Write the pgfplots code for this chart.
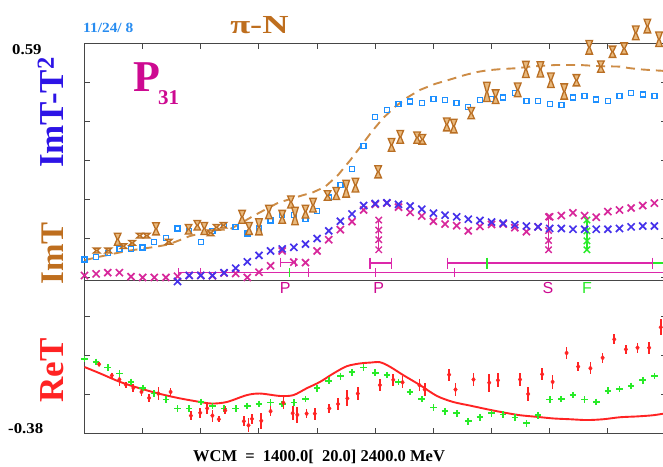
\documentclass[border=0pt]{standalone}
\usepackage{fontspec}
\setmainfont{Liberation Serif}
\setsansfont{Liberation Sans}
\usepackage{pgfplots}
\usepackage{pgfplotstable}
\pgfplotsset{compat=1.18}

\definecolor{sqblue}{RGB}{30,144,255}
\definecolor{xblue}{RGB}{70,50,235}
\definecolor{xmag}{RGB}{215,40,155}
\definecolor{barmag}{RGB}{220,40,170}
\definecolor{lgreen}{RGB}{40,235,40}
\definecolor{rered}{RGB}{255,35,35}
\definecolor{hgbrown}{RGB}{185,110,35}
\definecolor{hgfill}{RGB}{232,185,125}
\definecolor{dashbrown}{RGB}{205,140,70}
\definecolor{lblbrown}{RGB}{190,110,30}
\definecolor{lblblue}{RGB}{45,20,230}
\definecolor{datecol}{RGB}{40,140,240}
\definecolor{pmag}{RGB}{205,10,145}
\definecolor{framecol}{RGB}{70,70,70}

% hourglass marker: half-height = mark size, fixed half-width
\pgfdeclareplotmark{hourglass}{%
  \pgfpathmoveto{\pgfqpoint{-3.3pt}{\pgfplotmarksize}}%
  \pgfpathlineto{\pgfqpoint{3.3pt}{\pgfplotmarksize}}%
  \pgfpathlineto{\pgfqpoint{0.6pt}{0pt}}%
  \pgfpathlineto{\pgfqpoint{3.3pt}{-\pgfplotmarksize}}%
  \pgfpathlineto{\pgfqpoint{-3.3pt}{-\pgfplotmarksize}}%
  \pgfpathlineto{\pgfqpoint{-0.6pt}{0pt}}%
  \pgfpathclose
  \pgfusepathqfillstroke}

% ImT-T^2, solution (open squares), 20 MeV steps
\pgfplotstableread{
W v
1400 0.053
1420 0.059
1440 0.069
1460 0.079
1480 0.079
1500 0.083
1520 0.096
1540 0.106
1560 0.130
1580 0.124
1600 0.096
1620 0.124
1640 0.138
1660 0.133
1680 0.117
1700 0.130
1720 0.150
1740 0.163
1760 0.164
1780 0.154
1800 0.173
1820 0.207
1840 0.238
1860 0.278
1880 0.335
1900 0.407
1920 0.425
1940 0.440
1960 0.446
1980 0.443
2000 0.453
2020 0.450
2040 0.443
2060 0.433
2080 0.450
2100 0.453
2120 0.456
2140 0.468
2160 0.447
2180 0.447
2200 0.440
2220 0.437
2240 0.456
2260 0.460
2280 0.451
2300 0.447
2320 0.460
2340 0.467
2360 0.464
2380 0.460
}\sqdata

% blue crosses
\pgfplotstableread{
W v
1560 -0.002
1580 0.013
1600 0.013
1620 0.013
1640 0.020
1660 0.031
1680 0.047
1700 0.063
1720 0.074
1740 0.079
1760 0.083
1780 0.091
1800 0.105
1820 0.124
1840 0.148
1860 0.166
1880 0.187
1900 0.192
1920 0.194
1940 0.190
1960 0.186
1980 0.178
2000 0.168
2020 0.163
2040 0.159
2060 0.153
2080 0.150
2100 0.146
2120 0.143
2140 0.139
2160 0.136
2180 0.134
2200 0.130
2220 0.130
2240 0.128
2260 0.128
2280 0.128
2300 0.128
2320 0.130
2340 0.134
2360 0.136
2380 0.136
}\bxdata

% magenta crosses
\pgfplotstableread{
W v
1400 0.013
1420 0.017
1440 0.020
1460 0.020
1480 0.010
1500 0.008
1520 0.008
1540 0.008
1560 0.011
1580 0.013
1600 0.013
1620 0.012
1640 0.019
1660 0.018
1680 0.008
1700 0.021
1720 0.037
1740 0.074
1760 0.046
1780 0.045
1800 0.074
1820 0.102
1840 0.127
1860 0.147
1880 0.176
1900 0.190
1920 0.193
1940 0.183
1960 0.170
1980 0.161
2000 0.148
2020 0.141
2040 0.137
2060 0.124
2080 0.135
2100 0.140
2120 0.141
2140 0.132
2160 0.122
2180 0.134
2200 0.159
2220 0.162
2240 0.169
2260 0.162
2280 0.158
2300 0.172
2320 0.176
2340 0.181
2360 0.187
2380 0.193
}\mxdata

% ImT single-energy values with errors
\pgfplotstableread{
W v e
1421 0.075 0.006
1441 0.075 0.006
1457 0.103 0.015
1467 0.086 0.006
1482 0.094 0.006
1495 0.112 0.006
1507 0.112 0.006
1523 0.129 0.015
1545 0.097 0.006
1579 0.128 0.012
1594 0.138 0.012
1606 0.130 0.015
1617 0.119 0.007
1627 0.133 0.007
1639 0.138 0.007
1671 0.159 0.016
1683 0.130 0.015
1700 0.134 0.020
1717 0.171 0.017
1740 0.159 0.016
1755 0.196 0.015
1762 0.161 0.022
1780 0.172 0.016
1793 0.188 0.017
1818 0.212 0.012
1833 0.217 0.015
1850 0.229 0.021
1866 0.238 0.017
1905 0.271 0.015
1928 0.338 0.016
1943 0.358 0.016
1972 0.356 0.014
1981 0.352 0.012
2023 0.389 0.016
2035 0.385 0.017
2065 0.417 0.014
2092 0.470 0.024
2107 0.458 0.017
2145 0.475 0.017
2159 0.526 0.020
2184 0.526 0.019
2202 0.499 0.018
2225 0.471 0.019
2246 0.499 0.014
2268 0.581 0.017
2288 0.533 0.014
2308 0.570 0.014
2328 0.578 0.014
2348 0.617 0.017
2368 0.634 0.017
2388 0.601 0.018
}\imtdata

% ImT solution curve
\pgfplotstableread{
W v
1400 0.051
1427 0.060
1456 0.069
1478 0.075
1501 0.080
1521 0.084
1544 0.090
1564 0.101
1581 0.111
1604 0.119
1628 0.126
1650 0.128
1669 0.143
1690 0.161
1733 0.194
1776 0.213
1793 0.220
1814 0.234
1836 0.263
1857 0.300
1877 0.338
1894 0.371
1913 0.404
1934 0.433
1955 0.456
1977 0.475
2003 0.490
2029 0.501
2054 0.512
2077 0.520
2094 0.524
2118 0.527
2144 0.529
2166 0.533
2211 0.537
2252 0.537
2286 0.534
2321 0.533
2338 0.529
2357 0.526
2377 0.524
2400 0.522
}\imtcurve

% ReT solution curve
\pgfplotstableread{
W v
1400 -0.215
1427 -0.231
1461 -0.252
1495 -0.268
1530 -0.282
1564 -0.293
1599 -0.302
1619 -0.306
1645 -0.302
1679 -0.285
1702 -0.281
1736 -0.287
1759 -0.285
1782 -0.268
1805 -0.252
1828 -0.231
1851 -0.213
1874 -0.206
1891 -0.204
1908 -0.203
1925 -0.214
1948 -0.235
1977 -0.260
2006 -0.287
2034 -0.302
2063 -0.311
2092 -0.320
2120 -0.328
2149 -0.335
2178 -0.339
2206 -0.343
2235 -0.345
2264 -0.347
2292 -0.345
2321 -0.340
2350 -0.338
2378 -0.335
2400 -0.330
}\retcurve

% green plus series
\pgfplotstableread{
W v
1400 -0.195
1420 -0.202
1440 -0.216
1460 -0.231
1480 -0.252
1500 -0.267
1520 -0.281
1540 -0.296
1560 -0.318
1580 -0.318
1600 -0.302
1620 -0.312
1640 -0.318
1660 -0.318
1680 -0.312
1700 -0.307
1720 -0.303
1740 -0.307
1760 -0.303
1780 -0.295
1800 -0.268
1820 -0.249
1840 -0.238
1860 -0.228
1880 -0.216
1900 -0.229
1920 -0.235
1940 -0.252
1960 -0.277
1980 -0.295
2000 -0.316
2020 -0.325
2040 -0.330
2060 -0.350
2080 -0.340
2100 -0.330
2120 -0.333
2140 -0.341
2160 -0.355
2180 -0.335
2200 -0.296
2220 -0.295
2240 -0.285
2260 -0.296
2280 -0.302
2300 -0.274
2320 -0.270
2340 -0.262
2360 -0.248
2380 -0.237
}\grdata

% ReT single-energy values with errors
\pgfplotstableread{
W v e
1425 -0.208 0.005
1447 -0.236 0.007
1460 -0.246 0.015
1471 -0.259 0.007
1484 -0.267 0.010
1498 -0.277 0.010
1511 -0.292 0.010
1527 -0.281 0.017
1548 -0.277 0.010
1583 -0.336 0.012
1599 -0.329 0.012
1611 -0.318 0.015
1620 -0.336 0.015
1631 -0.345 0.007
1642 -0.323 0.010
1674 -0.350 0.012
1682 -0.360 0.017
1688 -0.344 0.012
1704 -0.349 0.020
1720 -0.325 0.012
1742 -0.304 0.015
1758 -0.330 0.017
1766 -0.334 0.020
1782 -0.331 0.012
1796 -0.331 0.015
1821 -0.318 0.012
1836 -0.307 0.015
1852 -0.293 0.020
1870 -0.281 0.017
1908 -0.260 0.015
1931 -0.247 0.015
1947 -0.253 0.015
1976 -0.260 0.015
1985 -0.271 0.015
2027 -0.234 0.015
2038 -0.271 0.015
2069 -0.246 0.015
2096 -0.254 0.022
2111 -0.248 0.017
2149 -0.246 0.015
2163 -0.282 0.017
2187 -0.233 0.015
2205 -0.252 0.017
2229 -0.180 0.015
2249 -0.214 0.012
2270 -0.218 0.015
2291 -0.192 0.012
2311 -0.146 0.012
2331 -0.171 0.012
2351 -0.167 0.012
2371 -0.167 0.015
2391 -0.116 0.020
}\retdata

\begin{document}
\begin{tikzpicture}
\path[use as bounding box] (0,0) rectangle (663pt,466pt);
\begin{axis}[
  at={(84.5pt,32.7pt)}, anchor=south west,
  scale only axis, width=581.5pt, height=389.6pt,
  xmin=1400, xmax=2400, ymin=-0.38, ymax=0.59,
  clip=false,
  xtick={1500,1600,...,2300}, xticklabels={},
  ytick={-0.283,-0.186,-0.089,0.008,0.105,0.202,0.299,0.396,0.493},
  yticklabels={},
  tick align=inside, major tick length=5pt,
  every tick/.style={framecol, line width=1pt},
  axis line style={framecol, line width=1.3pt},
]
% zero line separating the two panels
\addplot[framecol, line width=1.3pt] coordinates {(1400,0) (2400,0)};

% resonance width bars
\addplot[barmag, line width=1.2pt, mark=|, mark size=4.5pt, mark indices={1,2,3,4,5}]
  coordinates {(1561,0.020) (1599,0.020) (1785,0.020) (1901,0.020) (2036,0.020) (2400,0.020)};
\addplot[lgreen, line width=1.2pt, mark=|, mark size=4.5pt, only marks] coordinates {(1752,0.020)};
\addplot[barmag, line width=1.2pt, mark=|, mark size=5.5pt] coordinates {(1891,0.044) (1928,0.044)};
\addplot[barmag, line width=1.2pt, mark=|, mark size=5.5pt] coordinates {(2024,0.044) (2377,0.044)};
\addplot[lgreen, line width=1.2pt] coordinates {(2377,0.044) (2400,0.044)};
\addplot[lgreen, line width=1.2pt, mark=|, mark size=5.5pt, only marks] coordinates {(2092,0.044)};
\addplot[barmag, line width=1.2pt, mark=|, mark size=4.5pt] coordinates {(1737,0.046) (1763,0.046)};

% resonance position stacks
\addplot[xmag, line width=1.4pt, mark=x, mark size=4.5pt]
  coordinates {(1906,0.151) (1906,0.126) (1906,0.102) (1906,0.077)};
\addplot[xmag, line width=1.4pt, mark=x, mark size=4.5pt]
  coordinates {(2198,0.159) (2198,0.125) (2198,0.100) (2198,0.077)};
\addplot[lgreen, line width=1.4pt, mark=x, mark size=4.5pt]
  coordinates {(2264,0.151) (2264,0.124) (2264,0.099) (2264,0.077)};

% upper panel
\addplot[dashbrown, line width=1.9pt, dash pattern=on 9pt off 6pt] table[x=W,y=v] {\imtcurve};
\addplot[only marks, mark=square, mark size=2.5pt, sqblue, mark options={line width=1.4pt}]
  table[x=W,y=v] {\sqdata};
\addplot[only marks, mark=x, mark size=5pt, xmag, mark options={line width=1.7pt}]
  table[x=W,y=v] {\mxdata};
\addplot[only marks, mark=x, mark size=5pt, xblue, mark options={line width=1.7pt}]
  table[x=W,y=v] {\bxdata};
\addplot[scatter, only marks, mark=hourglass,
  scatter/use mapped color={draw=hgbrown, fill=hgfill},
  mark options={line width=1.3pt, line join=miter},
  visualization depends on={\thisrow{e} \as \err},
  scatter/@pre marker code/.append style={/tikz/mark size=401.6*\err}]
  table[x=W,y=v] {\imtdata};

% lower panel
\addplot[rered, line width=1.9pt, smooth] table[x=W,y=v] {\retcurve};
\addplot[only marks, mark=+, mark size=3.3pt, lgreen, mark options={line width=1.7pt}]
  table[x=W,y=v] {\grdata};
\addplot[only marks, mark=diamond*, mark size=2.4pt, rered,
  error bars/.cd, y dir=both, y explicit, error mark=none,
  error bar style={rered, line width=1.7pt}]
  table[x=W,y=v,y error=e] {\retdata};

% resonance labels
\node[anchor=north, inner sep=0pt, pmag, font=\sffamily\fontsize{16}{16}\selectfont] at (1745,-0.004) {P};
\node[anchor=north, inner sep=0pt, pmag, font=\sffamily\fontsize{16}{16}\selectfont] at (1906,-0.004) {P};
\node[anchor=north, inner sep=0pt, pmag, font=\sffamily\fontsize{16}{16}\selectfont] at (2197,-0.004) {S};
\node[anchor=north, inner sep=0pt, lgreen, font=\sffamily\fontsize{16}{16}\selectfont] at (2264,-0.004) {F};
\end{axis}

% titles and side labels
\node[anchor=base west, inner sep=0pt, xscale=1.1, datecol, font=\fontsize{14}{14}\selectfont\bfseries] at (83pt,433pt) {11/24/ 8};
\node[anchor=base west, inner sep=0pt, xscale=1.4, lblbrown, font=\fontsize{26}{26}\selectfont\bfseries] at (230pt,432pt) {π-N};
\node[anchor=base west, inner sep=0pt, pmag, font=\fontsize{44}{44}\selectfont\bfseries] at (133pt,374pt) {P};
\node[anchor=base west, inner sep=0pt, pmag, font=\fontsize{21}{21}\selectfont\bfseries] at (158pt,361pt) {31};
\node[anchor=base west, inner sep=0pt, xscale=1.12, font=\fontsize{15}{15}\selectfont\bfseries] at (12pt,411pt) {0.59};
\node[anchor=base west, inner sep=0pt, xscale=1.12, font=\fontsize{15}{15}\selectfont\bfseries] at (8pt,33pt) {-0.38};
\node[anchor=base west, inner sep=0pt, rotate=90, lblblue, font=\fontsize{35}{35}\selectfont\bfseries] at (63pt,298pt) {ImT-T\textsuperscript{2}};
\node[anchor=base west, inner sep=0pt, rotate=90, lblbrown, font=\fontsize{33}{33}\selectfont\bfseries] at (63pt,181pt) {ImT};
\node[anchor=base west, inner sep=0pt, rotate=90, rered, font=\fontsize{35}{35}\selectfont\bfseries] at (63pt,63pt) {ReT};
\node[anchor=base, inner sep=0pt, font=\fontsize{16.5}{16.5}\selectfont\bfseries] at (319pt,4.3pt) {WCM\ \ =\ \ 1400.0[\ \ 20.0]\ 2400.0\ MeV};
\end{tikzpicture}
\end{document}
